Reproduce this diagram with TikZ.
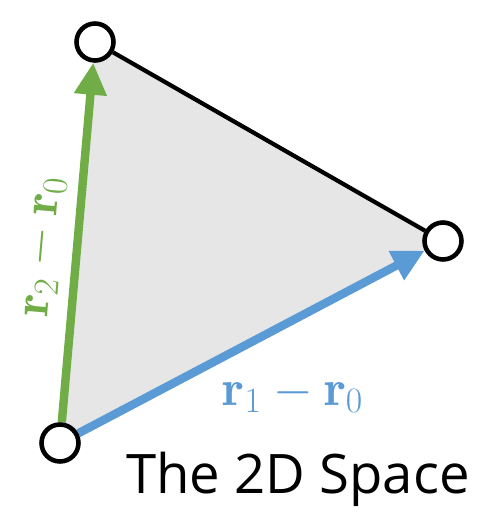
\RequirePackage{fix-cm}
\documentclass[tikz,border=0pt]{standalone}
\usepackage{fontspec}
\newfontfamily\captionfont{Open Sans}
\usetikzlibrary{arrows.meta,backgrounds}

\definecolor{vecgreen}{HTML}{70AD47}
\definecolor{vecblue}{HTML}{5B9BD5}
\definecolor{facegray}{HTML}{E6E6E6}

\begin{document}
\begin{tikzpicture}[
  x=0.02cm, y=-0.02cm,
  vertex/.style={draw, circle, line width=2.6pt, fill=white, minimum size=0.74cm, inner sep=0pt},
  edge/.style={line width=2.4pt},
  vec/.style={line width=4.8pt, -{Triangle[length=0.64cm, width=0.62cm]}},
  veclabel/.style={font=\fontsize{29}{34}\selectfont, inner sep=0pt}
]
  \useasboundingbox (0,0) rectangle (500,531);

  % Vertices
  \node[vertex] (r0) at (60,443) {};
  \node[vertex] (r1) at (443,241) {};
  \node[vertex] (r2) at (95,42) {};

  % Face and edges behind the vertices
  \begin{scope}[on background layer]
    \fill[facegray] (r0.center) -- (r1.center) -- (r2.center) -- cycle;
    \draw[edge] (r2) -- (r1);
    \draw[vec, vecgreen] (r0) -- (r2);
    \draw[vec, vecblue] (r0) -- (r1);
  \end{scope}

  % Labels
  \node[veclabel, text=vecgreen, rotate=85] (lg) at (43,247) {$\mathbf{r}_2-\mathbf{r}_0$};
  \node[veclabel, text=vecblue] (lb) at (293,394) {$\mathbf{r}_1-\mathbf{r}_0$};

  % Caption
  \node[font=\captionfont\fontsize{31}{37}\selectfont, anchor=base east, inner sep=0pt] (cap) at (470,493) {The 2D Space};
\end{tikzpicture}
\end{document}
